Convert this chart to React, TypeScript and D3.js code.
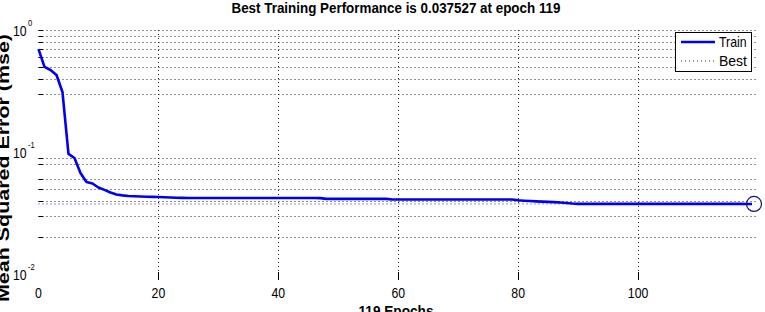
import React from "react";
import * as d3 from "d3";

// Training performance (mse) per epoch
const trainMse: number[] = [
  0.698, 0.498, 0.47, 0.428, 0.31, 0.0964, 0.0893, 0.0673, 0.0568, 0.0552,
  0.0512, 0.0489, 0.0466, 0.0449, 0.0441, 0.0436, 0.0434, 0.0432, 0.043, 0.0429,
  0.0428, 0.0426, 0.0424, 0.0422, 0.0421, 0.042, 0.042, 0.042, 0.042, 0.042,
  0.042, 0.042, 0.042, 0.042, 0.042, 0.042, 0.042, 0.042, 0.042, 0.042,
  0.042, 0.042, 0.042, 0.042, 0.042, 0.042, 0.042, 0.0419, 0.0413, 0.0413,
  0.0413, 0.0413, 0.0413, 0.0413, 0.0413, 0.0413, 0.0413, 0.0413, 0.0413, 0.0408,
  0.0408, 0.0408, 0.0408, 0.0408, 0.0408, 0.0408, 0.0408, 0.0408, 0.0408, 0.0408,
  0.0408, 0.0408, 0.0408, 0.0408, 0.0408, 0.0408, 0.0408, 0.0408, 0.0408, 0.0408,
  0.0402, 0.0399, 0.0397, 0.0394, 0.0392, 0.039, 0.0388, 0.0386, 0.0382, 0.0378,
  0.0376, 0.0376, 0.0376, 0.0376, 0.0376, 0.0376, 0.0376, 0.0376, 0.0376, 0.0376,
  0.0376, 0.0376, 0.0376, 0.0376, 0.0376, 0.0376, 0.0376, 0.0376, 0.0376, 0.0376,
  0.0376, 0.0376, 0.0376, 0.0376, 0.0376, 0.03755, 0.03755, 0.03754, 0.03753, 0.037527,
];
const bestEpoch = 119;
const bestValue = 0.037527;

const xTicks: number[] = [0, 20, 40, 60, 80, 100];
const xTickMarks: number[] = [20, 40, 60, 80, 100];
const yGridValues: number[] = [1, 0.9, 0.8, 0.7, 0.6, 0.5, 0.4, 0.3, 0.09, 0.08, 0.06, 0.05, 0.04, 0.03, 0.02];
const yMajorTicks: { v: number; exp: string }[] = [
  { v: 1, exp: "0" },
  { v: 0.1, exp: "-1" },
  { v: 0.01, exp: "-2" },
];

const titleText = "Best Training Performance is 0.037527 at epoch 119";
const xLabel = "119 Epochs";
const yLabel = "Mean Squared Error  (mse)";
const legendItems = ["Train", "Best"];

const W = 765;
const H = 312;
const FONT = "'Liberation Sans', Arial, Helvetica, sans-serif";
const BLUE = "#0000f0";

export default function App() {
  const x = d3.scaleLinear().domain([0, 119]).range([38.5, 752]);
  const y = d3.scaleLog().domain([0.01, 1]).range([274, 30]);
  const line = d3
    .line<number>()
    .x((_, i) => x(i))
    .y((d) => y(d));

  const gridLeft = x(0);
  const gridRight = 757;

  return (
    <svg
      width={W}
      height={H}
      style={{ position: "absolute", left: 0, top: 0, background: "#fff" }}
      fontFamily={FONT}
    >
      <rect x={0} y={0} width={W} height={H} fill="#fff" />
      {/* horizontal grid */}
      {yGridValues.map((v) => (
        <g key={"hg" + v}>
          <line
            x1={gridLeft}
            x2={gridRight}
            y1={Math.round(y(v)) + 0.5}
            y2={Math.round(y(v)) + 0.5}
            stroke="#222"
            strokeWidth={1}
            strokeDasharray="1 3"
          />
          <line
            x1={gridLeft}
            x2={gridLeft + 4.5}
            y1={Math.round(y(v)) + 0.5}
            y2={Math.round(y(v)) + 0.5}
            stroke="#000"
            strokeWidth={1}
          />
        </g>
      ))}
      {/* vertical grid */}
      {xTickMarks.map((t) => (
        <g key={"vg" + t}>
          <line
            x1={Math.round(x(t)) + 0.5}
            x2={Math.round(x(t)) + 0.5}
            y1={30}
            y2={271}
            stroke="#222"
            strokeWidth={1}
            strokeDasharray="1 3"
          />
          <line
            x1={Math.round(x(t)) + 0.5}
            x2={Math.round(x(t)) + 0.5}
            y1={272}
            y2={280}
            stroke="#000"
            strokeWidth={1}
          />
        </g>
      ))}
      {/* best line */}
      <line
        x1={gridLeft}
        x2={x(bestEpoch)}
        y1={y(bestValue)}
        y2={y(bestValue)}
        stroke="#2a2a9a"
        strokeWidth={1}
        strokeDasharray="1 3"
      />
      {/* train line */}
      <path d={line(trainMse) || ""} fill="none" stroke={BLUE} strokeWidth={2.6} strokeLinejoin="round" />
      {/* best circle */}
      <circle cx={x(bestEpoch) + 2} cy={y(bestValue)} r={7.5} fill="none" stroke="#14146e" strokeWidth={1.2} />

      {/* x tick labels */}
      {xTicks.map((t) => (
        <text
          key={"xt" + t}
          transform={`translate(${x(t)},297.5) scale(0.82,1)`}
          textAnchor="middle"
          fontSize={15}
          fill="#000"
        >
          {t}
        </text>
      ))}
      {/* y tick labels */}
      {yMajorTicks.map((t) => (
        <g key={"yt" + t.exp}>
          <text transform={`translate(13,${y(t.v) + 5.5}) scale(0.82,1)`} fontSize={15} fill="#000">
            10
          </text>
          <text transform={`translate(28,${y(t.v) - 4}) scale(0.85,1)`} fontSize={9} fill="#000">
            {t.exp}
          </text>
        </g>
      ))}

      {/* title */}
      <text
        x={396}
        y={13}
        textAnchor="middle"
        fontSize={14}
        fontWeight="bold"
        textLength={329}
        lengthAdjust="spacingAndGlyphs"
        fill="#000"
      >
        {titleText}
      </text>
      {/* x label */}
      <text
        x={396}
        y={316}
        textAnchor="middle"
        fontSize={15}
        fontWeight="bold"
        textLength={75}
        lengthAdjust="spacingAndGlyphs"
        fill="#000"
      >
        {xLabel}
      </text>
      {/* y label */}
      <text
        transform={`translate(9,${168}) rotate(-90)`}
        textAnchor="middle"
        fontSize={17}
        fontWeight="bold"
        textLength={268}
        lengthAdjust="spacingAndGlyphs"
        fill="#000"
      >
        {yLabel}
      </text>

      {/* legend */}
      <rect x={675.5} y={32.5} width={76} height={39} fill="#fff" stroke="#000" strokeWidth={1} />
      <line x1={681} x2={715} y1={42} y2={42} stroke={BLUE} strokeWidth={2.6} />
      <line x1={681} x2={715} y1={61} y2={61} stroke="#333" strokeWidth={1} strokeDasharray="1 3" />
      <text transform="translate(719,47) scale(0.88,1)" fontSize={14} fill="#000">
        {legendItems[0]}
      </text>
      <text transform="translate(719,66) scale(1,1)" fontSize={14} fill="#000">
        {legendItems[1]}
      </text>
    </svg>
  );
}
